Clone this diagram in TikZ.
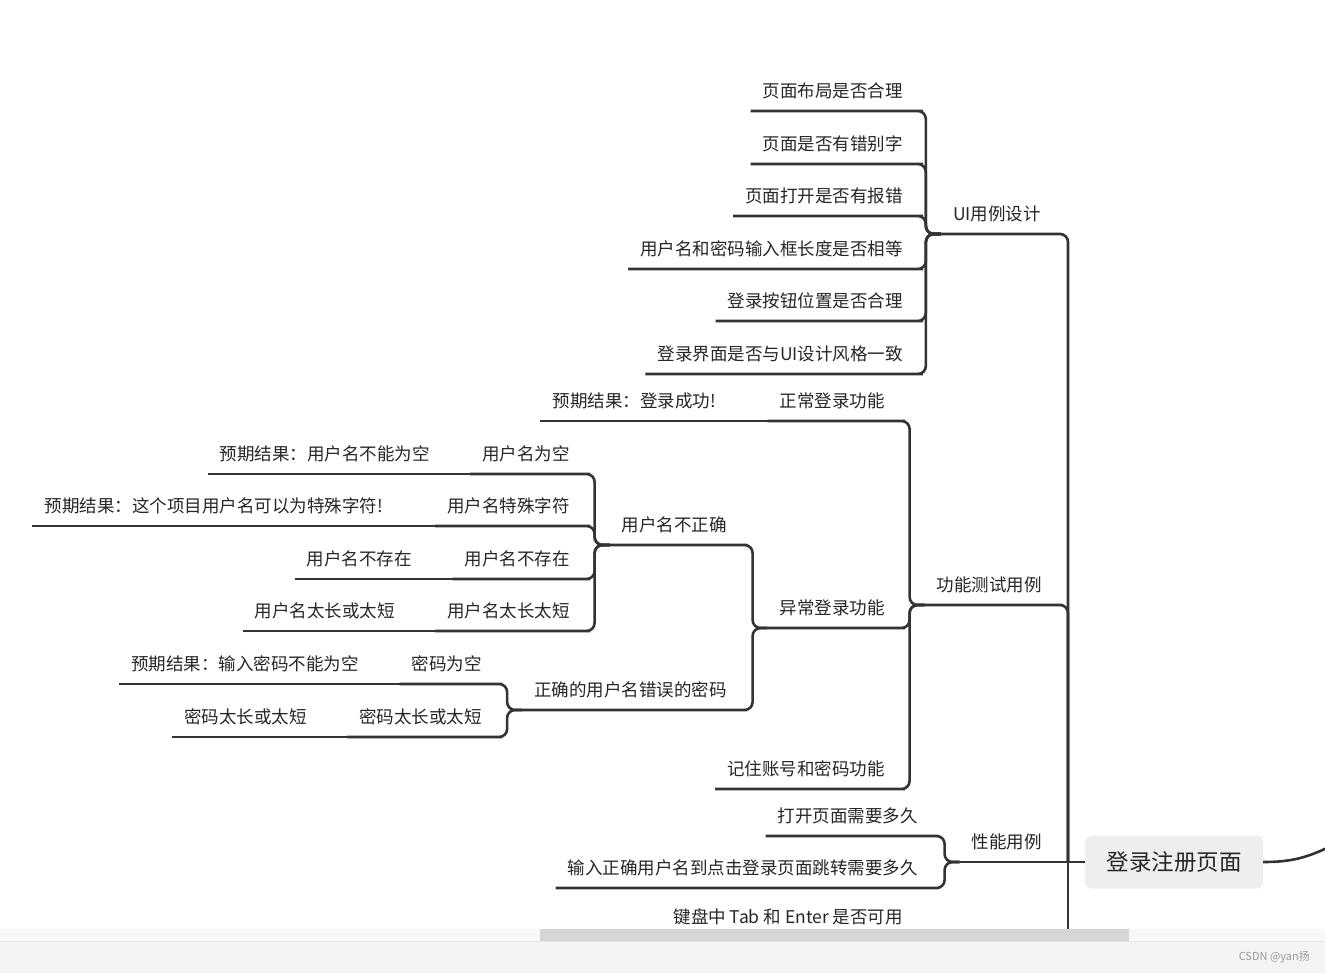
\documentclass[tikz,border=0pt]{standalone}
\usepackage{fontspec}
\setmainfont{Noto Sans CJK SC}
\newfontfamily\cjk{Noto Sans CJK SC}
\definecolor{linec}{HTML}{333333}
\definecolor{textc}{HTML}{262626}
\definecolor{rootfill}{HTML}{EEEEEE}
\definecolor{trackc}{HTML}{F8F8F8}
\definecolor{thumbc}{HTML}{D6D6D6}
\definecolor{barc}{HTML}{F4F4F4}
\definecolor{barline}{HTML}{E6E6E6}
\definecolor{markc}{HTML}{999999}
\newcommand\mmbranch[2]{\draw[conn] (#1.south west) -- ([xshift=-15pt]#1.south west) |- (#2.south east) -- (#2.south west);}
\newcommand\mmleaf[2]{\draw[conn] (#1.south west) -- (#2.south west);}
\begin{document}
\begin{tikzpicture}[x=1pt,y=-1pt,
  txt/.style={font=\cjk\fontsize{17.5}{21}\selectfont, text=textc, inner xsep=12pt, inner ysep=0pt, text height=15pt, text depth=13pt, anchor=south east},
  rootbox/.style={font=\cjk\fontsize{22.5}{26}\selectfont, text=textc, fill=rootfill, rounded corners=7pt, minimum width=178pt, minimum height=53pt, inner sep=0pt},
  conn/.style={draw=linec, line width=2.6pt, rounded corners=8pt},
  wmark/.style={font=\cjk\fontsize{11}{13}\selectfont, text=markc, anchor=east, inner sep=0pt}]
\useasboundingbox[fill=white] (0,0) rectangle (1325,973);

% root
\node[rootbox] (root) at (1174,862) {登录注册页面};
\coordinate (tj) at (1068,862);
\coordinate (tend) at (1068,935);
\coordinate (rc) at (1350,836);

% level 1
\node[txt] (ui) at (1053,234) {UI用例设计};
\node[txt] (func) at (1054,605) {功能测试用例};
\node[txt] (perf) at (1054,862) {性能用例};

% UI children
\node[txt] (u1) at (915,111) {页面布局是否合理};
\node[txt] (u2) at (915,164) {页面是否有错别字};
\node[txt] (u3) at (915,216) {页面打开是否有报错};
\node[txt] (u4) at (915,269) {用户名和密码输入框长度是否相等};
\node[txt] (u5) at (915,321) {登录按钮位置是否合理};
\node[txt] (u6) at (915,374) {登录界面是否与UI设计风格一致};

% function children
\node[txt] (f1) at (897,421) {正常登录功能};
\node[txt] (f2) at (897,628) {异常登录功能};
\node[txt] (f3) at (897,789) {记住账号和密码功能};
\node[txt] (f1a) at (728,421) {预期结果：登录成功!};

\node[txt] (f2a) at (739,545) {用户名不正确};
\node[txt] (f2b) at (739,710) {正确的用户名错误的密码};

\node[txt] (n1) at (582,474) {用户名为空};
\node[txt] (n2) at (582,526) {用户名特殊字符};
\node[txt] (n3) at (582,579) {用户名不存在};
\node[txt] (n4) at (582,631) {用户名太长太短};
\node[txt] (n1a) at (442,474) {预期结果：用户名不能为空};
\node[txt] (n2a) at (395,526) {预期结果：这个项目用户名可以为特殊字符!};
\node[txt] (n3a) at (424,579) {用户名不存在};
\node[txt] (n4a) at (407,631) {用户名太长或太短};

\node[txt] (p1) at (494,684) {密码为空};
\node[txt] (p2) at (494,737) {密码太长或太短};
\node[txt] (p1a) at (371,684) {预期结果：输入密码不能为空};
\node[txt] (p2a) at (319,737) {密码太长或太短};

% performance children
\node[txt] (q1) at (930,836) {打开页面需要多久};
\node[txt] (q2) at (930,888) {输入正确用户名到点击登录页面跳转需要多久};

\node[txt] (kbd) at (915,937) {键盘中 Tab 和 Enter 是否可用};

% connectors: root level
\draw[conn] (ui.south west) -- (ui.south east) -| (tj);
\draw[conn] (func.south west) -- (func.south east) -| (tj);
\draw[conn] (perf.south west) -- (root.west);
\draw[conn] (tj) -- (tend);
\draw[conn] (root.east) .. controls (1295,862) and (1312,857) .. (rc);

% UI
\mmbranch{ui}{u1}
\mmbranch{ui}{u2}
\mmbranch{ui}{u3}
\mmbranch{ui}{u4}
\mmbranch{ui}{u5}
\mmbranch{ui}{u6}

% function
\mmbranch{func}{f1}
\mmbranch{func}{f2}
\mmbranch{func}{f3}
\mmleaf{f1}{f1a}
\mmbranch{f2}{f2a}
\mmbranch{f2}{f2b}
\mmbranch{f2a}{n1}
\mmbranch{f2a}{n2}
\mmbranch{f2a}{n3}
\mmbranch{f2a}{n4}
\mmleaf{n1}{n1a}
\mmleaf{n2}{n2a}
\mmleaf{n3}{n3a}
\mmleaf{n4}{n4a}
\mmbranch{f2b}{p1}
\mmbranch{f2b}{p2}
\mmleaf{p1}{p1a}
\mmleaf{p2}{p2a}

% performance
\mmbranch{perf}{q1}
\mmbranch{perf}{q2}

% scroll bar and footer
\fill[trackc] (0,929) rectangle (1325,941);
\fill[thumbc] (540,929) rectangle (1129,941);
\fill[barc] (0,941) rectangle (1325,973);
\draw[barline, line width=1pt] (0,941) -- (1325,941);
\node[wmark] (wm) at (1310,957) {CSDN @yan扬};
\end{tikzpicture}
\end{document}
